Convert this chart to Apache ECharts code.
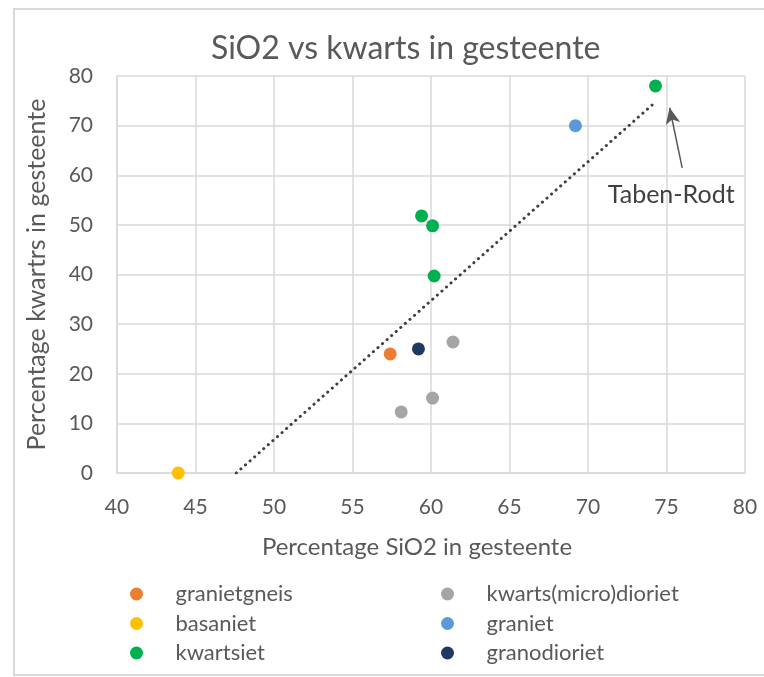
<!DOCTYPE html>
<html style='height: 100%'>
<head>
    <meta charset='utf-8'>
</head>
<body style='height: 100%; margin: 0; background: #fff'>
    <div id='container' style='width: 764px; height: 677px'></div>
    <script type='text/javascript' src='https://cdn.jsdelivr.net/npm/echarts@6/dist/echarts.min.js'></script>
    <script type="text/javascript">

// data: [SiO2 %, kwarts %]
var granietgneis = [[57.4, 24.0]];
var basaniet = [[43.9, 0]];
var kwartsiet = [[59.4, 51.8], [60.1, 49.8], [60.2, 39.7], [74.3, 78.0]];
var kwartsMicroDioriet = [[61.4, 26.4], [60.1, 15.1], [58.1, 12.3]];
var graniet = [[69.2, 70.0]];
var granodioriet = [[59.2, 25.0]];
var trendLine = [[47.6, 0], [74.1, 74.2]];
var arrowFrom = [76.0, 61.5];
var arrowTo = [75.2, 73.6];
var labelAt = [75.3, 56.0];

var names = ['granietgneis', 'basaniet', 'kwartsiet', 'kwarts(micro)dioriet', 'graniet', 'granodioriet'];
var colors = ['#ED7D31', '#FFC000', '#00B050', '#A5A5A5', '#5B9BD5', '#203864'];
var sets = [granietgneis, basaniet, kwartsiet, kwartsMicroDioriet, graniet, granodioriet];

var dom = document.getElementById("container");
var myChart = echarts.init(dom);
var font = 'Lato, "Noto Sans", sans-serif';
var grey = '#595959';

var series = [];
for (var i = 0; i < names.length; i++) {
    series.push({
        name: names[i],
        type: 'scatter',
        data: sets[i],
        symbolSize: 13,
        itemStyle: { color: colors[i], opacity: 1 },
        clip: false,
        z: 5
    });
}
series.push({
    name: 'trend',
    type: 'line',
    data: trendLine,
    symbol: 'none',
    lineStyle: { color: '#404040', width: 3, type: [0.1, 6], cap: 'round' },
    markLine: {
        silent: true,
        symbol: ['none', 'arrow'],
        symbolSize: [11, 16],
        lineStyle: { color: '#595959', width: 1.5, type: 'solid' },
        label: { show: false },
        data: [[{ coord: arrowFrom }, { coord: arrowTo }]]
    },
    markPoint: {
        silent: true,
        symbol: 'circle',
        symbolSize: 0,
        data: [{ coord: labelAt }],
        label: {
            show: true, position: 'inside', formatter: 'Taben-Rodt',
            fontFamily: font, fontSize: 25, color: '#404040'
        }
    },
    z: 3
});

var legendText = { fontFamily: font, fontSize: 22, lineHeight: 22, color: grey };

var option = {
    backgroundColor: '#fff',
    animation: false,
    title: {
        text: 'SiO2 vs kwarts in gesteente',
        left: 206,
        top: 28,
        textStyle: { fontFamily: font, fontSize: 32, fontWeight: 'normal', color: grey }
    },
    grid: { left: 117, top: 76, right: 19, bottom: 204 },
    xAxis: {
        type: 'value', min: 40, max: 80, interval: 5,
        name: 'Percentage SiO2 in gesteente', nameLocation: 'middle', nameGap: 62,
        nameTextStyle: { fontFamily: font, fontSize: 24, color: grey, padding: [0, 28, 0, 0] },
        axisLine: { show: true, lineStyle: { color: '#d9d9d9', width: 1.5 } },
        axisTick: { show: false },
        axisLabel: { fontFamily: font, fontSize: 21, color: grey, margin: 24 },
        splitLine: { show: true, lineStyle: { color: '#d9d9d9', width: 1.5 } }
    },
    yAxis: {
        type: 'value', min: 0, max: 80, interval: 10,
        name: 'Percentage kwartrs in gesteente', nameLocation: 'middle', nameGap: 68,
        nameTextStyle: { fontFamily: font, fontSize: 25, color: grey },
        axisLine: { show: true, lineStyle: { color: '#d9d9d9', width: 1.5 } },
        axisTick: { show: false },
        axisLabel: { fontFamily: font, fontSize: 21, color: grey, margin: 24 },
        splitLine: { show: true, lineStyle: { color: '#d9d9d9', width: 1.5 } }
    },
    legend: [{
        data: names.slice(0, 3),
        orient: 'vertical', left: 125, top: 578,
        icon: 'circle', itemWidth: 68, itemHeight: 13, itemGap: 7.5,
        textStyle: legendText
    }, {
        data: names.slice(3),
        orient: 'vertical', left: 436, top: 578,
        icon: 'circle', itemWidth: 68, itemHeight: 13, itemGap: 7.5,
        textStyle: legendText
    }],
    graphic: [{
        type: 'rect', silent: true, z: -10,
        shape: { x: 14, y: 9, width: 770, height: 666 },
        style: { fill: 'none', stroke: '#d9d9d9', lineWidth: 2 }
    }],
    series: series
};

if (option && typeof option === "object") {
    myChart.setOption(option, true);
}
       </script>
   </body>
</html>
